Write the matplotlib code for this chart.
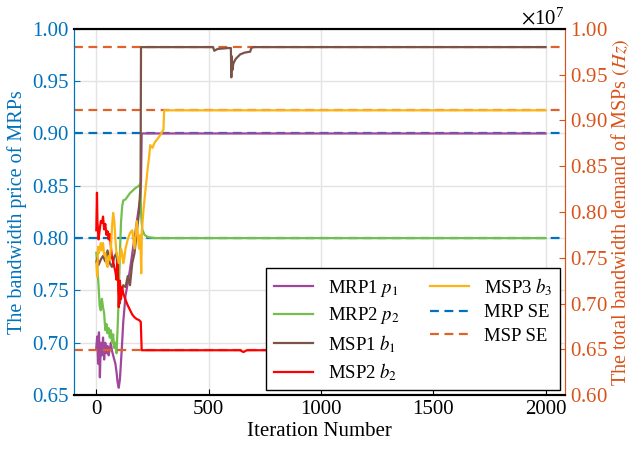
import numpy as np
import matplotlib
matplotlib.use("Agg")
import matplotlib.pyplot as plt
from matplotlib.ticker import ScalarFormatter

plt.rcParams["font.family"] = ["Liberation Serif", "DejaVu Serif"]
plt.rcParams["mathtext.fontset"] = "stix"

# MRP prices (left axis)
mrp1_it = [0, 4, 8, 12, 16, 20, 25, 30, 35, 40, 45, 50, 55, 60, 65, 70, 75, 80, 85, 90,
           95, 100, 105, 110, 115, 120, 130, 140, 150, 160, 170, 180, 190, 198, 202, 2000]
mrp1_p = [0.695, 0.706, 0.680, 0.710, 0.667, 0.700, 0.688, 0.705, 0.684, 0.700, 0.690, 0.697,
          0.688, 0.694, 0.700, 0.692, 0.688, 0.684, 0.680, 0.672, 0.662, 0.657, 0.665, 0.682,
          0.700, 0.720, 0.745, 0.757, 0.770, 0.785, 0.800, 0.815, 0.830, 0.840, 0.900, 0.900]

mrp2_it = [0, 5, 10, 15, 20, 25, 30, 35, 40, 45, 50, 55, 60, 65, 70, 75, 80, 85, 90, 95,
           100, 105, 110, 115, 120, 130, 140, 150, 160, 175, 190, 196, 200, 205, 215, 230, 260, 2000]
mrp2_p = [0.786, 0.770, 0.755, 0.735, 0.731, 0.742, 0.734, 0.728, 0.712, 0.718, 0.709, 0.714,
          0.705, 0.712, 0.700, 0.708, 0.695, 0.700, 0.690, 0.715, 0.745, 0.785, 0.815, 0.830,
          0.836, 0.837, 0.840, 0.843, 0.845, 0.848, 0.850, 0.852, 0.820, 0.808, 0.803, 0.801,
          0.800, 0.800]

# MSP demands (right axis, x1e7)
msp1_it = [0, 5, 10, 20, 30, 40, 50, 60, 70, 80, 90, 95, 100, 105, 110, 120, 130, 140, 150,
           160, 170, 180, 190, 197, 199, 520, 525, 540, 590, 599, 601, 603, 606, 610, 620, 640,
           660, 685, 690, 700, 2000]
msp1_b = [0.745, 0.750, 0.742, 0.748, 0.752, 0.746, 0.758, 0.744, 0.740, 0.751, 0.755, 0.733,
          0.712, 0.700, 0.713, 0.720, 0.718, 0.730, 0.720, 0.744, 0.755, 0.777, 0.800, 0.830,
          0.980, 0.980, 0.976, 0.978, 0.979, 0.979, 0.947, 0.970, 0.955, 0.962, 0.967, 0.972,
          0.974, 0.975, 0.979, 0.980, 0.980]

msp2_it = [0, 3, 5, 10, 15, 20, 25, 30, 35, 40, 45, 50, 55, 60, 65, 70, 75, 80, 85, 90, 95,
           100, 105, 110, 115, 120, 130, 140, 150, 160, 170, 180, 190, 198, 202, 640, 655, 670, 2000]
msp2_b = [0.780, 0.821, 0.790, 0.770, 0.780, 0.790, 0.788, 0.795, 0.781, 0.787, 0.775, 0.779,
          0.770, 0.776, 0.762, 0.750, 0.746, 0.740, 0.735, 0.726, 0.745, 0.696, 0.725, 0.705,
          0.718, 0.711, 0.704, 0.698, 0.693, 0.688, 0.685, 0.683, 0.682, 0.680, 0.649, 0.649,
          0.647, 0.649, 0.649]

msp3_it = [0, 4, 8, 12, 16, 20, 25, 30, 35, 40, 45, 50, 55, 60, 65, 70, 75, 80, 85, 90,
           95, 100, 105, 110, 115, 120, 125, 130, 140, 150, 160, 170, 180, 190, 196, 200,
           203, 210, 220, 230, 235, 240, 250, 260, 270, 285, 299, 302, 2000]
msp3_b = [0.744, 0.729, 0.762, 0.755, 0.760, 0.766, 0.758, 0.766, 0.753, 0.755, 0.744, 0.740,
          0.752, 0.748, 0.760, 0.784, 0.799, 0.790, 0.770, 0.755, 0.751, 0.744, 0.748, 0.760,
          0.755, 0.744, 0.750, 0.760, 0.770, 0.777, 0.780, 0.760, 0.790, 0.760, 0.775, 0.733,
          0.780, 0.802, 0.827, 0.850, 0.860, 0.873, 0.870, 0.876, 0.879, 0.884, 0.890, 0.911, 0.911]

mrp_se = [0.90, 0.80]
msp_se = [0.980, 0.911, 0.649]

c_blue = "#0072BD"
c_orange = "#D95319"
fs = 15

fig = plt.figure(figsize=(6.31, 4.5), dpi=100)
ax = fig.add_axes([0.117, 0.122, 0.778, 0.814])
ax2 = ax.twinx()

for v in mrp_se:
    ax.axhline(v, color=c_blue, ls="--", lw=1.6, dashes=(4, 2.5), zorder=1)
l1, = ax.plot(mrp1_it, mrp1_p, color="#A0469B", lw=1.6, label="MRP1 $p_1$", zorder=2)
l2, = ax.plot(mrp2_it, mrp2_p, color="#72BF4E", lw=1.6, label="MRP2 $p_2$", zorder=2)

for v in msp_se:
    ax2.axhline(v * 1e7, color="#E0622A", ls="--", lw=1.6, dashes=(4, 2.5), zorder=1)
l3, = ax2.plot(msp1_it, np.array(msp1_b) * 1e7, color="#7B5447", lw=1.6, label="MSP1 $b_1$", zorder=2)
l4, = ax2.plot(msp2_it, np.array(msp2_b) * 1e7, color="#FF0000", lw=1.6, label="MSP2 $b_2$", zorder=2)
l5, = ax2.plot(msp3_it, np.array(msp3_b) * 1e7, color="#FDB515", lw=1.6, label="MSP3 $b_3$", zorder=2)

h_mrp = plt.Line2D([], [], color=c_blue, ls="--", lw=1.6, dashes=(4, 2.5), label="MRP SE")
h_msp = plt.Line2D([], [], color="#E0622A", ls="--", lw=1.6, dashes=(4, 2.5), label="MSP SE")

ax.set_xlim(-100, 2085)
ax.set_ylim(0.65, 1.00)
ax2.set_ylim(0.6e7, 1.0e7)
ax.set_xticks([0, 500, 1000, 1500, 2000])
ax.set_yticks(np.arange(0.65, 1.001, 0.05))
ax2.set_yticks(np.arange(0.6e7, 1.0001e7, 0.05e7))
fmt = ScalarFormatter(useMathText=True)
fmt.set_powerlimits((0, 0))
ax2.yaxis.set_major_formatter(fmt)

ax.grid(True, color="#e3e3e3", lw=1)
ax.set_axisbelow(True)

ax.tick_params(axis="x", direction="in", labelsize=fs, length=4, colors="black")
ax.tick_params(axis="y", direction="in", labelsize=fs, length=4, colors=c_blue)
ax2.tick_params(axis="y", direction="in", labelsize=fs, length=4, colors=c_orange)
ax2.yaxis.get_offset_text().set_fontsize(fs)
ax2.yaxis.get_offset_text().set_color("black")

ax.set_xlabel("Iteration Number", fontsize=fs, labelpad=2)
ax.set_ylabel("The bandwidth price of MRPs", fontsize=14.5, color=c_blue, labelpad=4)
ax2.set_ylabel("The total bandwidth demand of MSPs $(Hz)$", fontsize=14.5, color=c_orange, labelpad=1)

for a in (ax, ax2):
    a.spines["top"].set_linewidth(1.5)
    a.spines["bottom"].set_linewidth(1.5)
ax2.spines["left"].set_color(c_blue)
ax2.spines["right"].set_color(c_orange)
ax.spines["left"].set_color(c_blue)
ax.spines["right"].set_color(c_orange)

leg = ax2.legend(handles=[l1, l2, l3, l4, l5, h_mrp, h_msp], ncol=2, loc="lower right",
                 bbox_to_anchor=(1.0, 0.0), borderaxespad=0.25, fontsize=13.5,
                 fancybox=False, edgecolor="black", framealpha=1, columnspacing=1.6,
                 handlelength=2.1, labelspacing=0.35)
leg.get_frame().set_linewidth(1.0)

fig.savefig("out.png", dpi=100)
